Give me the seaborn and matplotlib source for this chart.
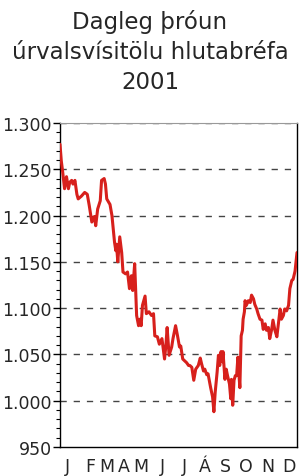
"""Daily development of the ICEX-15 share index, 2001"""

import matplotlib

matplotlib.use("Agg")
import matplotlib.pyplot as plt
import matplotlib.ticker as mtick
import pandas as pd
import seaborn as sns

##### Data ######################################################################
# day of year (0 = 1 Jan) and index value
day_of_year = [
    0, 2, 4, 7, 10, 13, 15, 18, 20, 23, 26, 28, 33, 38, 42, 45, 49, 53, 55, 58,
    62, 64, 68, 70, 72, 77, 80, 84, 86, 87, 89, 92, 95, 97, 101, 104, 107, 108,
    110, 112, 115, 118, 121, 123, 125, 127, 131, 133, 137, 141, 144, 146, 150,
    153, 157, 161, 163, 165, 168, 172, 174, 178, 181, 184, 186, 189, 192, 195,
    198, 200, 203, 206, 209, 213, 216, 218, 221, 223, 226, 228, 232, 235, 237,
    239, 242, 244, 246, 248, 250, 251, 254, 256, 258, 261, 263, 264, 266, 268,
    270, 272, 274, 275, 277, 279, 281, 282, 284, 285, 287, 290, 293, 295, 298,
    300, 303, 305, 308, 311, 313, 316, 318, 321, 323, 326, 328, 331, 334, 336,
    339, 341, 344, 346, 349, 352, 354, 357, 359, 362, 365,
]
index_value = [
    1277, 1259, 1248, 1229, 1242, 1229, 1236, 1238, 1234, 1238, 1223, 1218,
    1221, 1225, 1223, 1211, 1193, 1199, 1189, 1207, 1216, 1238, 1240, 1234,
    1218, 1212, 1200, 1171, 1162, 1169, 1150, 1177, 1160, 1139, 1137, 1139,
    1121, 1129, 1135, 1119, 1148, 1092, 1081, 1088, 1081, 1103, 1113, 1094,
    1096, 1092, 1094, 1070, 1069, 1061, 1067, 1045, 1059, 1079, 1049, 1058,
    1067, 1081, 1070, 1058, 1059, 1045, 1043, 1041, 1038, 1038, 1036, 1022,
    1034, 1038, 1046, 1040, 1032, 1034, 1028, 1029, 1014, 1004, 988, 1009,
    1031, 1049, 1038, 1053, 1042, 1053, 1023, 1034, 1027, 1018, 1002, 1023,
    995, 1022, 1027, 1027, 1047, 1034, 1014, 1070, 1076, 1088, 1096, 1108,
    1103, 1108, 1106, 1114, 1110, 1104, 1099, 1094, 1088, 1087, 1077, 1083,
    1076, 1079, 1067, 1077, 1087, 1076, 1069, 1081, 1099, 1088, 1092, 1099,
    1097, 1103, 1121, 1130, 1131, 1140, 1160,
]
month_labels = ["J", "F", "M", "A", "M", "J", "J", "Á", "S", "O", "N", "D"]
month_ticks = [12, 46, 72, 98, 125, 157, 192, 223, 254, 287, 320, 352]

title = "Dagleg þróun\núrvalsvísitölu hlutabréfa\n2001"


def thousands(x, pos):
    return f"{int(x):,}".replace(",", ".")


def main():
    df = pd.DataFrame({"day": day_of_year, "value": index_value})

    sns.set_style("white")
    plt.rcParams["font.family"] = ["DejaVu Sans"]

    fig = plt.figure(figsize=(3.0, 4.77), dpi=100)
    ax = fig.add_axes([0.2, 0.061, 0.79, 0.679])

    # dashed gridlines under the line
    for level in range(1000, 1301, 50):
        ax.axhline(level, color="#444444", linewidth=1.0,
                   linestyle=(0, (4.5, 5)), zorder=1)

    sns.lineplot(data=df, x="day", y="value", color="#d7201c",
                 linewidth=2.2, ax=ax, zorder=3)

    ax.set_xlim(0, 365)
    ax.set_ylim(950, 1300)
    ax.yaxis.set_major_locator(mtick.MultipleLocator(50))
    ax.yaxis.set_minor_locator(mtick.MultipleLocator(10))
    ax.yaxis.set_major_formatter(mtick.FuncFormatter(thousands))
    ax.set_xticks(month_ticks)
    ax.set_xticklabels(month_labels)

    ax.tick_params(axis="y", which="major", left=True, length=5, width=1,
                   direction="out", labelsize=12.5, pad=1, color="black")
    ax.tick_params(axis="y", which="minor", left=True, length=3, width=0.8,
                   direction="out", color="black")
    ax.tick_params(axis="x", bottom=False, labelsize=12.5, pad=4)

    ax.set_xlabel("")
    ax.set_ylabel("")
    for side in ["left", "bottom", "right"]:
        ax.spines[side].set_color("black")
        ax.spines[side].set_linewidth(1.0)
    ax.spines["top"].set_color("#999999")
    ax.spines["top"].set_linewidth(0.8)

    fig.text(0.5, 1 - 10 / 477, title, ha="center", va="top",
             fontsize=16.5, linespacing=1.4)

    fig.savefig("out.png", dpi=100)
    plt.close()


if __name__ == "__main__":
    main()
